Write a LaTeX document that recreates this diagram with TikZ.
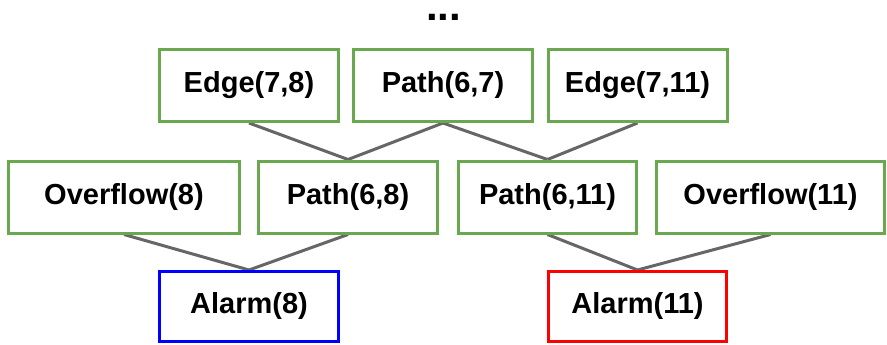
\documentclass[tikz,border=0pt]{standalone}
\usepackage{fontspec}
\setmainfont{Liberation Sans}
\usetikzlibrary{backgrounds}
\definecolor{boxgreen}{HTML}{6AA84F}
\definecolor{linkgray}{HTML}{666666}
\tikzset{
  fact/.style={draw=boxgreen, line width=3pt, fill=white, inner sep=0pt,
    minimum height=72pt, font=\fontsize{29}{34}\selectfont\bfseries},
  alarmbox/.style={fact, minimum height=70pt},
  link/.style={draw=linkgray, line width=3pt},
}
\begin{document}
\begin{tikzpicture}[x=1pt,y=-1pt]
\useasboundingbox (0,0) rectangle (887,345);
% ellipsis above the top row
\node[font=\fontsize{42}{42}\selectfont\bfseries, anchor=base, inner sep=0pt,
  text height=7pt, text depth=0pt] (more) at (443.5,20.5) {...};
% top row
\node[fact, minimum width=179pt] (e78)  at (249,85.5)   {Edge(7,8)};
\node[fact, minimum width=179pt] (p67)  at (443,85.5)   {Path(6,7)};
\node[fact, minimum width=179pt] (e711) at (637.5,85.5) {Edge(7,11)};
% middle row
\node[fact, minimum width=231pt] (o8)   at (124,197)    {Overflow(8)};
\node[fact, minimum width=179pt] (p68)  at (348,197)    {Path(6,8)};
\node[fact, minimum width=178pt] (p611) at (547.5,197)  {Path(6,11)};
\node[fact, minimum width=228pt] (o11)  at (770.5,197)  {Overflow(11)};
% alarms
\node[alarmbox, draw=blue, minimum width=179pt] (a8)  at (249,306.5)   {Alarm(8)};
\node[alarmbox, draw=red,  minimum width=178pt] (a11) at (637.5,306.5) {Alarm(11)};
% derivation links
\begin{scope}[on background layer]
\draw[link] (e78.south)  -- (p68.north);
\draw[link] (p67.south)  -- (p68.north);
\draw[link] (p67.south)  -- (p611.north);
\draw[link] (e711.south) -- (p611.north);
\draw[link] (o8.south)   -- (a8.north);
\draw[link] (p68.south)  -- (a8.north);
\draw[link] (p611.south) -- (a11.north);
\draw[link] (o11.south)  -- (a11.north);
\end{scope}
\end{tikzpicture}
\end{document}
